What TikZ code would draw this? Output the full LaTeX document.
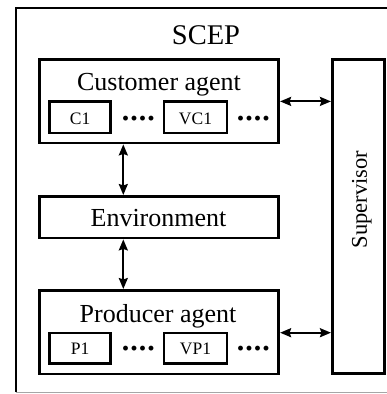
\documentclass[tikz,border=0pt]{standalone}
\usepackage{fontspec}
\setmainfont{Liberation Serif}
\usetikzlibrary{arrows.meta,calc}
\tikzset{
  box/.style={draw=black, line width=2.7pt, rectangle, inner sep=0pt, fill=white},
  arr/.style={line width=2pt, {Stealth[length=11pt,width=9pt,inset=1.5pt]}-{Stealth[length=11pt,width=9pt,inset=1.5pt]}},
  bigtxt/.style={font=\fontsize{26}{30}\selectfont, inner sep=0pt, anchor=base},
  smalltxt/.style={font=\fontsize{17.5}{20}\selectfont, inner sep=0pt, anchor=base},
  dotstxt/.style={font=\fontsize{30}{30}\selectfont\bfseries, inner sep=0pt, anchor=base},
}
\newcommand\fourdots{·\kern-1.5pt·\kern-1.5pt·\kern-1.5pt·}
\begin{document}
\begin{tikzpicture}[x=1pt,y=-1pt]
\useasboundingbox (0,0) rectangle (387,394);
% outer frame (cut by the picture edge on the right)
\draw[line width=2.7pt] (16,392) -- (16,8) -- (392,8);
\draw[gray!70, line width=1pt] (16,392.5) -- (387,392.5);
\node[font=\fontsize{28.5}{32}\selectfont, inner sep=0pt, anchor=base] (scep) at (206,44) {SCEP};
% main boxes
\node[box, minimum width=239.5pt, minimum height=83.3pt] (cust) at (159,101.4) {};
\node[box, minimum width=239.5pt, minimum height=41.7pt] (env) at (159,217.2) {};
\node[box, minimum width=239.5pt, minimum height=83.7pt] (prod) at (159,332.2) {};
\node[box, minimum width=52.4pt, minimum height=314pt] (sup) at (358.5,216.7) {};
% texts
\node[bigtxt] (custtxt) at (159,90.8) {Customer agent};
\node[bigtxt] (envtxt) at (158.5,226) {Environment};
\node[bigtxt] (prodtxt) at (158,322.7) {Producer agent};
\node[font=\fontsize{22.5}{26}\selectfont, inner sep=0pt, anchor=base, rotate=90] (suptxt) at (366.8,199.5) {Supervisor};
% inner boxes
\node[box, line width=2.5pt, minimum width=61pt, minimum height=31.7pt] (c1) at (80.2,117.2) {};
\node[box, line width=2.5pt, minimum width=63pt, minimum height=31.7pt] (vc1) at (195.5,117.2) {};
\node[box, line width=2.5pt, minimum width=61pt, minimum height=30.5pt] (p1) at (80.2,348.2) {};
\node[box, line width=2.5pt, minimum width=63pt, minimum height=30.5pt] (vp1) at (195.5,348.2) {};
\node[smalltxt] (c1t) at (80.2,124.2) {C1};
\node[smalltxt] (vc1t) at (195.5,124.2) {VC1};
\node[smalltxt] (p1t) at (80.2,354.7) {P1};
\node[smalltxt] (vp1t) at (195.5,354.7) {VP1};
\node[dotstxt] (d1) at (138.5,128.8) {\fourdots};
\node[dotstxt] (d2) at (253.5,128.8) {\fourdots};
\node[dotstxt] (d3) at (138.5,358.8) {\fourdots};
\node[dotstxt] (d4) at (253.5,358.8) {\fourdots};
% connectors
\draw[arr] ($(cust.south)+(-35.7,0)$) -- ($(env.north)+(-35.7,0)$);
\draw[arr] ($(env.south)+(-35.7,0)$) -- ($(prod.north)+(-35.7,0)$);
\draw[arr] (cust.east) -- (cust.east -| sup.west);
\draw[arr] ($(prod.east)+(0,0.5)$) -- ($(prod.east -| sup.west)+(0,0.5)$);
\end{tikzpicture}
\end{document}
